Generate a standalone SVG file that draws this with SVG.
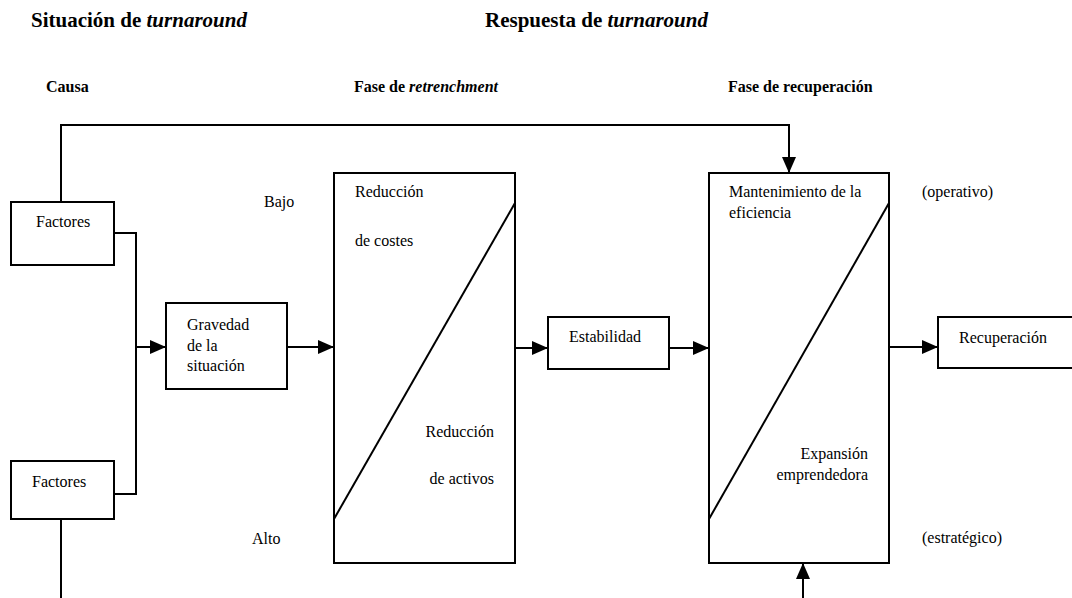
<svg xmlns="http://www.w3.org/2000/svg" width="1072" height="598" viewBox="0 0 1072 598">
<style>
text{font-family:'Liberation Serif','DejaVu Serif',serif;fill:#000;font-size:16px}
.h1{font-size:21px;font-weight:bold}
.h2{font-size:16px;font-weight:bold}
.it{font-style:italic}
.box{fill:#fff;stroke:#000;stroke-width:2}
.ln{fill:none;stroke:#000;stroke-width:2}
.end{text-anchor:end}
</style>
<defs>
<marker id="arr" markerUnits="userSpaceOnUse" markerWidth="16" markerHeight="14" refX="16" refY="7" orient="auto">
<path d="M0,0 L16,7 L0,14 z" fill="#000"/>
</marker>
</defs>
<rect width="1072" height="598" fill="#fff"/>
<g id="headers">
<text class="h1" x="31" y="27">Situación de <tspan class="it">turnaround</tspan></text>
<text class="h1" x="485" y="27">Respuesta de <tspan class="it">turnaround</tspan></text>
<text class="h2" x="46" y="92">Causa</text>
<text class="h2" x="354" y="92">Fase de <tspan class="it">retrenchment</tspan></text>
<text class="h2" x="728" y="92">Fase de recuperación</text>
<text x="264" y="207">Bajo</text>
<text x="252" y="544">Alto</text>
<text x="922" y="197">(operativo)</text>
<text x="922" y="543">(estratégico)</text>
</g>
<g id="connectors">
<polyline class="ln" points="61,202 61,125 789,125 789,173" marker-end="url(#arr)"/>
<polyline class="ln" points="114,233 136,233 136,494 114,494"/>
<line class="ln" x1="136" y1="347" x2="166" y2="347" marker-end="url(#arr)"/>
<line class="ln" x1="287" y1="347" x2="334" y2="347" marker-end="url(#arr)"/>
<line class="ln" x1="515" y1="348" x2="548" y2="348" marker-end="url(#arr)"/>
<line class="ln" x1="669" y1="348" x2="709" y2="348" marker-end="url(#arr)"/>
<line class="ln" x1="889" y1="347" x2="938" y2="347" marker-end="url(#arr)"/>
<line class="ln" x1="61" y1="519" x2="61" y2="600"/>
<line class="ln" x1="803" y1="600" x2="803" y2="563" marker-end="url(#arr)"/>
</g>
<g id="factores1">
<rect class="box" x="11" y="202" width="103" height="63"/>
<text x="36" y="227">Factores</text>
</g>
<g id="factores2">
<rect class="box" x="11" y="461" width="103" height="58"/>
<text x="32" y="487">Factores</text>
</g>
<g id="gravedad">
<rect class="box" x="166" y="303" width="121" height="86"/>
<text x="187" y="330">Gravedad</text>
<text x="187" y="351">de la</text>
<text x="187" y="371">situación</text>
</g>
<g id="retrenchment">
<rect class="box" x="334" y="173" width="181" height="390"/>
<line class="ln" x1="334" y1="519" x2="515" y2="203"/>
<text x="355" y="197">Reducción</text>
<text x="355" y="246">de costes</text>
<text class="end" x="494" y="437">Reducción</text>
<text class="end" x="494" y="484">de activos</text>
</g>
<g id="estabilidad">
<rect class="box" x="548" y="317" width="121" height="52"/>
<text x="569" y="342">Estabilidad</text>
</g>
<g id="recuperacion-fase">
<rect class="box" x="709" y="173" width="180" height="390"/>
<line class="ln" x1="709" y1="519" x2="889" y2="203"/>
<text x="729" y="197">Mantenimiento de la</text>
<text x="729" y="218">eficiencia</text>
<text class="end" x="868" y="459">Expansión</text>
<text class="end" x="868" y="480">emprendedora</text>
</g>
<g id="recuperacion">
<rect class="box" x="938" y="317" width="140" height="51"/>
<text x="959" y="343">Recuperación</text>
</g>
</svg>
